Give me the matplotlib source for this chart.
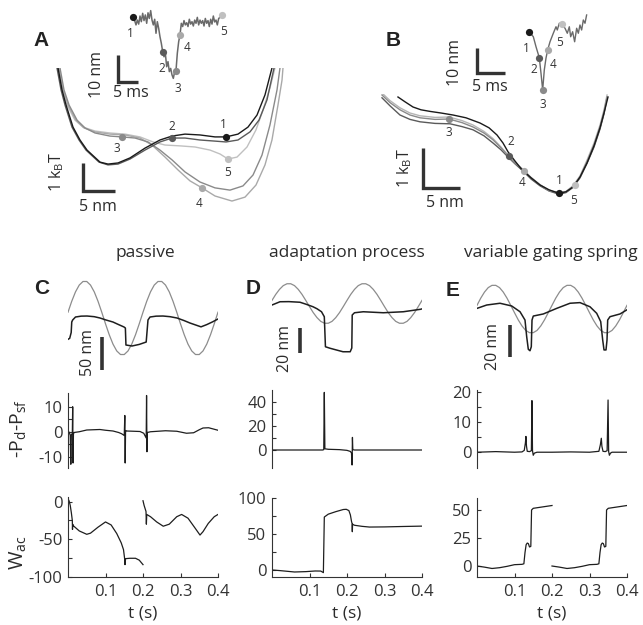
import matplotlib
matplotlib.use('Agg')
import matplotlib.pyplot as plt

W, H = 643, 625
plt.rcParams['font.family'] = ['Open Sans', 'DejaVu Sans']
plt.rcParams['mathtext.default'] = 'regular'

INK = '#2b2b2b'
PT_COLORS = ['#1a1a1a', '#5a5a5a', '#8a8a8a', '#a9a9a9', '#c0c0c0']
PT_NAMES = ['1', '2', '3', '4', '5']

# ---------------- Panel A inset trace (time ms, displacement nm) ----------------
a_tr_t = [0.25, 0.75, 1.08, 1.42, 1.75, 2.08, 2.42, 2.75, 3.08, 3.42, 3.75, 4.08, 4.42, 4.75, 5.08,
          5.42, 5.75, 6.08, 6.42, 6.75, 7.08, 7.42, 7.75, 8.08, 8.42, 8.75, 9.08, 9.42, 9.75, 10.08,
          10.42, 10.75, 11.08, 11.42, 11.75, 12.08, 12.42, 12.75, 13.08, 13.42, 13.75, 14.08, 14.42,
          14.75, 15.08, 15.42, 15.75, 16.08, 16.42, 16.75, 17.08, 17.42, 17.75, 18.08, 18.42, 18.75,
          19.08, 19.42, 19.75, 20.08, 20.42, 20.75, 21.08, 21.42, 21.75, 22.17]
a_tr_x = [22.8, 20.4, 22.2, 20.7, 23.7, 21.6, 24.7, 22.0, 24.1, 21.0, 24.9, 22.8, 25.7, 22.2, 20.4,
          22.5, 17.3, 21.6, 19.1, 16.0, 13.6, 10.5, 8.6, 9.9, 4.9, 6.8, 3.1, 4.3, 1.9, 0.6,
          3.1, 3.5, 9.9, 14.2, 16.7, 21.0, 19.8, 22.0, 20.4, 21.2, 19.8, 22.5, 20.7, 21.6, 20.0,
          22.2, 21.0, 23.2, 20.4, 22.2, 21.0, 22.0, 20.0, 22.8, 21.0, 22.0, 19.8, 22.5, 20.7, 23.7,
          21.5, 22.2, 20.4, 22.8, 23.2, 24.1]
a_pt_t = [0.08, 7.58, 10.75, 11.75, 22.17]
a_pt_x = [23.2, 10.5, 3.5, 16.7, 24.1]

# ---------------- Panel A energy landscapes (x nm, E kBT) ----------------
a_e1_x = [0.16, 0.78, 1.41, 2.5, 3.59, 4.69, 6.72, 7.97, 9.53, 11.41, 13.75, 16.09, 17.97, 20.0,
          22.34, 24.69, 26.41, 28.28, 29.84, 31.25, 32.5, 33.59]
a_e1_y = [4.82, 4.04, 3.5, 2.71, 2.25, 1.89, 1.46, 1.39, 1.43, 1.61, 1.96, 2.25, 2.39, 2.46,
          2.43, 2.36, 2.36, 2.46, 2.71, 3.14, 3.86, 4.82]
a_e2_x = [0.0, 0.63, 1.25, 2.34, 3.44, 4.53, 6.56, 7.97, 9.53, 11.41, 13.75, 16.09, 17.97, 20.0,
          22.34, 24.69, 26.41, 28.28, 30.16, 31.56, 32.81, 33.91]
a_e2_y = [4.82, 4.04, 3.5, 2.71, 2.25, 1.89, 1.46, 1.36, 1.39, 1.57, 1.89, 2.18, 2.32, 2.32,
          2.25, 2.21, 2.18, 2.25, 2.54, 2.96, 3.68, 4.82]
a_e3_x = [0.47, 1.09, 1.88, 3.13, 4.38, 5.94, 8.28, 10.16, 12.19, 14.22, 16.09, 17.97, 20.0, 22.34,
          24.69, 27.03, 29.06, 30.63, 32.03, 33.28, 34.38, 34.84]
a_e3_y = [4.82, 4.04, 3.5, 2.96, 2.68, 2.5, 2.39, 2.36, 2.32, 2.18, 1.89, 1.54, 1.11, 0.75,
          0.54, 0.46, 0.61, 1.0, 1.71, 2.79, 4.04, 4.82]
a_e4_x = [0.31, 0.94, 1.72, 2.97, 4.22, 5.94, 8.28, 10.63, 12.97, 14.84, 16.88, 18.91, 20.78, 22.66,
          24.69, 27.34, 29.38, 31.09, 32.5, 33.59, 34.53, 35.16, 35.31]
a_e4_y = [4.82, 4.04, 3.5, 2.96, 2.68, 2.54, 2.46, 2.43, 2.32, 2.07, 1.64, 1.18, 0.79, 0.54,
          0.25, 0.07, 0.21, 0.64, 1.36, 2.25, 3.5, 4.39, 4.82]
a_e5_x = [0.16, 0.78, 1.56, 2.81, 4.06, 5.94, 8.28, 10.63, 12.97, 15.0, 16.88, 19.22, 21.56, 23.91,
          25.47, 26.72, 28.13, 29.69, 31.09, 32.19, 33.28, 34.06]
a_e5_y = [4.82, 4.04, 3.5, 2.96, 2.71, 2.57, 2.5, 2.46, 2.36, 2.18, 2.07, 2.04, 2.0, 1.89,
          1.75, 1.57, 1.64, 2.0, 2.61, 3.32, 4.11, 4.82]
a_pt_ex = [26.41, 17.97, 10.16, 22.66, 26.72]
a_pt_ey = [2.36, 2.32, 2.36, 0.54, 1.57]

# ---------------- Panel B inset trace ----------------
b_tr_t = [0.0, 0.72, 1.2, 1.79, 2.09, 2.39, 2.68, 2.98, 3.28, 3.7, 4.29, 4.77, 5.0, 5.36, 5.78,
          6.38, 6.79, 7.15, 7.39, 7.74, 8.1, 8.46, 8.76, 9.05, 9.35, 9.65, 9.95, 10.24]
b_tr_x = [23.3, 21.3, 17.3, 12.9, 6.7, 0.0, 8.0, 12.7, 16.0, 19.3, 22.7, 25.3, 24.0, 26.7, 26.4,
          24.7, 22.7, 25.3, 21.3, 23.3, 19.3, 24.7, 22.7, 26.0, 24.0, 28.0, 26.7, 30.0]
b_pt_t = [0.0, 1.79, 2.39, 3.28, 5.78]
b_pt_x = [23.3, 12.9, 0.0, 16.0, 26.4]

# ---------------- Panel B energy landscapes ----------------
b_e1_x = [2.16, 3.11, 4.19, 5.27, 6.49, 7.97, 9.59, 11.35, 13.24, 14.46, 15.54, 16.35, 17.03, 17.97,
          18.92, 20.14, 21.35, 22.57, 23.92, 24.86, 25.81, 26.76, 27.70, 28.65, 29.46, 30.0, 30.54]
b_e1_y = [2.4, 2.28, 2.15, 2.08, 2.04, 2.0, 1.95, 1.88, 1.75, 1.63, 1.45, 1.25, 1.03, 0.8,
          0.58, 0.38, 0.2, 0.08, -0.01, 0.03, 0.15, 0.4, 0.75, 1.18, 1.63, 2.0, 2.4]
b_e2_x = [0.0, 1.08, 2.43, 3.78, 5.14, 7.16, 9.19, 10.81, 12.3, 13.78, 15.0, 16.08, 17.03, 17.97,
          19.05, 20.14, 21.35, 22.57, 23.92, 24.86, 25.81, 26.76, 27.70, 28.65, 29.46, 30.0, 30.41]
b_e2_y = [2.38, 2.18, 1.95, 1.84, 1.78, 1.74, 1.73, 1.66, 1.58, 1.43, 1.25, 1.08, 0.9, 0.73,
          0.55, 0.35, 0.18, 0.05, -0.03, 0.01, 0.14, 0.38, 0.74, 1.15, 1.6, 1.98, 2.38]
b_e3_x = [0.0, 1.08, 2.43, 3.78, 5.14, 7.16, 9.05, 10.81, 12.3, 13.78, 15.0, 16.08, 17.03, 17.97,
          19.05, 20.14, 21.35, 22.57, 23.92, 24.86, 25.81, 26.76, 27.70, 28.65, 29.46, 30.0, 30.41]
b_e3_y = [2.45, 2.26, 2.08, 1.95, 1.88, 1.84, 1.85, 1.76, 1.65, 1.5, 1.33, 1.13, 0.93, 0.75,
          0.58, 0.38, 0.2, 0.06, 0.0, 0.03, 0.16, 0.4, 0.78, 1.2, 1.65, 2.03, 2.4]
b_e4_y = [2.5, 2.31, 2.13, 2.0, 1.93, 1.89, 1.9, 1.81, 1.7, 1.54, 1.36, 1.15, 0.95, 0.76,
          0.59, 0.39, 0.21, 0.07, 0.01, 0.04, 0.18, 0.43, 0.82, 1.25, 1.7, 2.08, 2.45]
b_pt_ex = [23.92, 17.16, 9.05, 19.19, 26.08]
b_pt_ey = [0.0, 0.93, 1.85, 0.55, 0.2]

# ---------------- Panels C-E: stimulus (grey) and bundle (black) traces, nm ----------------
sine_t = [0.00, 0.01, 0.02, 0.03, 0.04, 0.05, 0.06, 0.07, 0.08, 0.09, 0.10, 0.11, 0.12, 0.13,
          0.14, 0.15, 0.16, 0.17, 0.18, 0.19, 0.20, 0.21, 0.22, 0.23, 0.24, 0.25, 0.26, 0.27,
          0.28, 0.29, 0.30, 0.31, 0.32, 0.33, 0.34, 0.35, 0.36, 0.37, 0.38, 0.39, 0.40]
c_stim = [8.8, 25.4, 39.6, 49.9, 55.3, 55.3, 49.9, 39.6, 25.4, 8.8, -8.8, -25.4, -39.6, -49.9,
          -55.3, -55.3, -49.9, -39.6, -25.4, -8.8, 8.8, 25.4, 39.6, 49.9, 55.3, 55.3, 49.9, 39.6,
          25.4, 8.8, -8.8, -25.4, -39.6, -49.9, -55.3, -55.3, -49.9, -39.6, -25.4, -8.8, 8.8]
d_stim = [2.5, 7.3, 11.3, 14.3, 15.8, 15.8, 14.3, 11.3, 7.3, 2.5, -2.5, -7.3, -11.3, -14.3,
          -15.8, -15.8, -14.3, -11.3, -7.3, -2.5, 2.5, 7.3, 11.3, 14.3, 15.8, 15.8, 14.3, 11.3,
          7.3, 2.5, -2.5, -7.3, -11.3, -14.3, -15.8, -15.8, -14.3, -11.3, -7.3, -2.5, 2.5]
e_stim = [2.3, 6.8, 10.6, 13.4, 14.8, 14.8, 13.4, 10.6, 6.8, 2.3, -2.3, -6.8, -10.6, -13.4,
          -14.8, -14.8, -13.4, -10.6, -6.8, -2.3, 2.3, 6.8, 10.6, 13.4, 14.8, 14.8, 13.4, 10.6,
          6.8, 2.3, -2.3, -6.8, -10.6, -13.4, -14.8, -14.8, -13.4, -10.6, -6.8, -2.3, 2.3]

c_bun_t = [0.0, 0.0045, 0.0085, 0.010, 0.0125, 0.02, 0.035, 0.0507, 0.07, 0.0853, 0.10, 0.12,
           0.135, 0.1493, 0.153, 0.1545, 0.1707, 0.19, 0.2085, 0.2133, 0.2187, 0.235, 0.2533,
           0.272, 0.2907, 0.31, 0.3253, 0.34, 0.3547, 0.37, 0.385, 0.40]
c_bun_x = [-32.3, -30.8, -22.0, -6.0, -3.0, 1.5, 2.8, 3.0, 2.0, 0.0, -2.8, -6.1,
           -10.0, -13.6, -15.2, -40.9, -42.4, -40.0, -36.4, -3.0, 1.5, 2.8, 3.0,
           2.0, 0.0, -4.0, -7.6, -10.5, -13.4, -10.0, -6.0, -1.5]
d_bun_t = [0.0, 0.0213, 0.045, 0.0747, 0.09, 0.1093, 0.12, 0.132, 0.1395, 0.1425, 0.1547, 0.1893,
           0.2085, 0.2128, 0.2139, 0.22, 0.2435, 0.2968, 0.3502, 0.3965, 0.40]
d_bun_x = [-1.2, 1.4, 1.5, 1.0, -0.5, -2.6, -4.2, -6.6, -10.6, -34.6, -35.8, -38.6,
           -38.6, -35.6, -9.2, -7.4, -6.6, -7.4, -6.6, -4.6, -4.3]
e_bun_t = [0.0, 0.0259, 0.0613, 0.0925, 0.1147, 0.128, 0.1325, 0.1368, 0.1413, 0.1448, 0.1467,
           0.1501, 0.1768, 0.2125, 0.248, 0.2747, 0.3013, 0.3192, 0.3299, 0.3352, 0.3387, 0.344,
           0.3467, 0.3485, 0.3547, 0.3813, 0.3992]
e_bun_x = [0.4, 2.5, 3.6, 1.9, -1.7, -6.9, -17.3, -25.2, -26.1, -23.6, -6.9,
           -4.4, -3.1, 0.4, 3.6, 4.0, 1.4, -2.7, -7.9, -19.4, -25.6, -25.6,
           -19.4, -6.9, -4.8, -3.1, -0.6]

# ---------------- -Pd-Psf ----------------
c_p_t = [0.0, 0.004, 0.006, 0.0075, 0.009, 0.0115, 0.0125, 0.0135, 0.0145, 0.016, 0.03, 0.05, 0.085,
         0.10, 0.12, 0.135, 0.143, 0.150, 0.1515, 0.1525, 0.1535, 0.156, 0.175, 0.192, 0.202, 0.2085,
         0.2095, 0.2105, 0.2115, 0.22, 0.26, 0.29, 0.316, 0.335, 0.35, 0.36, 0.375, 0.39, 0.40]
c_p_v = [0.5, -0.5, -1.5, -13.0, -1.0, -1.0, 10.0, -12.5, -1.0, -0.3, 0.0, 0.7, 0.9,
         0.6, 0.3, -0.3, -0.8, -1.5, 6.5, -12.5, 0.5, 0.3, 0.2, 0.1, -0.6, -2.5,
         14.5, -8.0, -0.3, 0.0, 0.4, 0.2, -0.6, -0.4, 0.8, 1.5, 1.6, 1.0, 0.6]
d_p_t = [0.0, 0.05, 0.10, 0.135, 0.138, 0.1395, 0.141, 0.15, 0.18, 0.20, 0.209, 0.212, 0.2135,
         0.2145, 0.2155, 0.22, 0.30, 0.40]
d_p_v = [0.0, 0.0, 0.0, 0.0, 0.3, 48.0, 1.0, 0.6, 0.3, -0.3, -1.2, -2.5, -12.5,
         10.5, 0.3, 0.0, 0.0, 0.0]
e_p_t = [0.0, 0.05, 0.10, 0.12, 0.126, 0.129, 0.1305, 0.132, 0.134, 0.14, 0.145, 0.1465, 0.148,
         0.150, 0.153, 0.16, 0.20, 0.25, 0.30, 0.325, 0.329, 0.3315, 0.333, 0.336, 0.342, 0.347,
         0.3495, 0.351, 0.353, 0.356, 0.36, 0.40]
e_p_v = [0.0, 0.2, 0.0, 0.1, 0.6, 3.0, 5.2, 2.0, 0.3, 0.2, 0.5, 17.0, 0.5,
         -1.0, -0.3, 0.0, 0.0, 0.1, 0.0, 0.3, 2.5, 4.6, 2.0, 0.3, 0.2, 0.5,
         17.2, 0.3, -1.0, -0.3, 0.0, 0.0]

# ---------------- W_ac (two stimulus cycles drawn as separate segments) ----------------
c_w1_t = [0.0, 0.003, 0.006, 0.009, 0.0115, 0.012, 0.0125, 0.014, 0.03, 0.05, 0.06, 0.08, 0.10,
          0.115, 0.13, 0.142, 0.148, 0.151, 0.152, 0.1535, 0.165, 0.18, 0.19, 0.20]
c_w1_v = [4.0, 1.0, -5.0, -15.0, -25.0, -37.0, -30.0, -32.0, -39.0, -43.5, -42.0, -34.0, -27.0,
          -31.0, -42.5, -55.0, -64.0, -76.0, -84.0, -76.0, -75.5, -75.5, -78.0, -84.0]
c_w2_t = [0.20, 0.203, 0.208, 0.209, 0.21, 0.22, 0.2365, 0.254, 0.27, 0.29, 0.303, 0.32, 0.34,
          0.352, 0.36, 0.374, 0.39, 0.40]
c_w2_v = [1.3, -5.0, -13.0, -30.0, -17.0, -20.0, -27.0, -32.7, -30.0, -20.0, -17.0, -22.0, -36.0,
          -44.5, -40.0, -29.0, -20.0, -17.0]
d_w_t = [0.0, 0.02, 0.06, 0.09, 0.115, 0.13, 0.137, 0.1395, 0.15, 0.17, 0.19, 0.198, 0.205, 0.209,
         0.212, 0.2135, 0.2142, 0.2148, 0.22, 0.24, 0.26, 0.30, 0.35, 0.40]
d_w_v = [0.0, -0.8, -2.8, -2.3, -1.4, -1.5, -3.7, 74.0, 78.0, 81.5, 84.5, 84.8, 83.0, 77.0,
         68.0, 65.0, 53.5, 64.0, 62.5, 61.0, 60.0, 60.2, 60.8, 61.3]
e_w1_t = [0.0, 0.02, 0.04, 0.06, 0.08, 0.10, 0.12, 0.125, 0.128, 0.131, 0.134, 0.137, 0.140,
          0.1435, 0.1455, 0.15, 0.17, 0.19, 0.20]
e_w1_v = [0.0, -1.0, -2.2, -1.5, -0.3, 1.2, 1.5, 2.0, 12.0, 19.0, 20.5, 20.0, 17.0,
          17.5, 50.0, 51.5, 52.5, 53.5, 54.0]
e_w2_t = [0.20, 0.22, 0.24, 0.26, 0.28, 0.30, 0.32, 0.325, 0.328, 0.331, 0.334, 0.337, 0.340,
          0.3435, 0.3455, 0.35, 0.37, 0.39, 0.40]
e_w2_v = [0.0, -1.0, -2.2, -1.5, -0.3, 1.2, 1.5, 2.0, 12.0, 19.0, 20.5, 20.0, 17.0,
          17.5, 50.0, 51.5, 52.5, 53.5, 54.0]

t_ticks = [0.1, 0.2, 0.3, 0.4]
t_ticklabels = ['0.1', '0.2', '0.3', '0.4']

# =====================================================================
fig = plt.figure(figsize=(W / 100, H / 100), dpi=100)

TICK_FS = 12
SCALE_FS = 11.5


def add_ax(l, t, r, b):
    ax = fig.add_axes([l / W, 1 - b / H, (r - l) / W, (b - t) / H])
    ax.patch.set_alpha(0)
    return ax


def ftext(x, y, s, **kw):
    kw.setdefault('ha', 'center')
    kw.setdefault('va', 'center')
    kw.setdefault('color', INK)
    fig.text(x / W, 1 - y / H, s, **kw)


def lbar(ax, x0, y0, dx, dy):
    ax.plot([x0, x0, x0 + dx], [y0 + dy, y0, y0], color='#333333', lw=2.4,
            solid_capstyle='butt', solid_joinstyle='miter', clip_on=False)


def points(ax, xs, ys, offs, ms=5.2, fs=8.5):
    for i, (x, y) in enumerate(zip(xs, ys)):
        ax.plot([x], [y], 'o', ms=ms, color=PT_COLORS[i], mec='none', clip_on=False, zorder=5)
        ax.annotate(PT_NAMES[i], (x, y), xytext=(offs[i][0], -offs[i][1]), textcoords='offset pixels',
                    ha='center', va='center', fontsize=fs, color='#333333')


# ---------------- A ----------------
axAi = add_ax(95, 5, 235, 100)
axAi.set_xlim(-9.5, 25.5)
axAi.set_ylim(-7.41, 27.78)
axAi.axis('off')
axAi.plot(a_tr_t, a_tr_x, color='#6a6a6a', lw=1.1)
points(axAi, a_pt_t, a_pt_x, [(-3, 16), (-2, 17), (2, 18), (7, 13), (2, 17)])
lbar(axAi, -3.75, -0.74, 5, 10)
axAi.text(-9.0, 2.0, '10 nm', rotation=90, ha='center', va='center', fontsize=SCALE_FS, color=INK)
axAi.text(-0.5, -4.8, '5 ms', ha='center', va='center', fontsize=SCALE_FS, color=INK)

axA = add_ax(30, 68, 300, 215)
axA.set_xlim(-4.22, 37.97)
axA.set_ylim(-0.4286, 4.821)
axA.axis('off')
for xs, ys, c in [(a_e5_x, a_e5_y, PT_COLORS[4]), (a_e4_x, a_e4_y, PT_COLORS[3]),
                  (a_e3_x, a_e3_y, PT_COLORS[2]), (a_e2_x, a_e2_y, PT_COLORS[1]),
                  (a_e1_x, a_e1_y, PT_COLORS[0])]:
    axA.plot(xs, ys, color=c, lw=1.0)
points(axA, a_pt_ex, a_pt_ey, [(-3, -12), (0, -12), (-5, 12), (-3, 16), (0, 13)])
lbar(axA, 4.06, 0.43, 5, 1)
axA.text(0.0, 1.1, r'1 k$_{B}$T', rotation=90, ha='center', va='center', fontsize=SCALE_FS, color=INK)
axA.text(6.4, -0.15, '5 nm', ha='center', va='center', fontsize=SCALE_FS, color=INK)

# ---------------- B ----------------
axBi = add_ax(440, 5, 600, 110)
axBi.set_xlim(-15.95, 12.63)
axBi.set_ylim(-8, 34)
axBi.axis('off')
axBi.plot(b_tr_t, b_tr_x, color='#6a6a6a', lw=1.0)
points(axBi, b_pt_t, b_pt_x, [(-3, 17), (-6, 12), (0, 14), (5, 15), (-2, 19)])
lbar(axBi, -9.34, 6.8, 5, 10)
axBi.text(-13.27, 10.8, '10 nm', rotation=90, ha='center', va='center', fontsize=SCALE_FS, color=INK)
axBi.text(-7.02, 1.2, '5 ms', ha='center', va='center', fontsize=SCALE_FS, color=INK)

axB = add_ax(370, 94, 620, 215)
axB.set_xlim(-1.62, 32.16)
axB.set_ylim(-0.55, 2.475)
axB.axis('off')
axB.plot(b_e2_x, b_e2_y, color='#5a5a5a', lw=1.0)
axB.plot(b_e3_x, b_e4_y, color='#b5b5b5', lw=1.0)
axB.plot(b_e3_x, b_e3_y, color='#8a8a8a', lw=1.0)
axB.plot(b_e1_x, b_e1_y, color='#1a1a1a', lw=1.0)
points(axB, b_pt_ex, b_pt_ey, [(0, -12), (2, -14), (0, 13), (-2, 12), (-1, 15)])
lbar(axB, 5.54, 0.125, 5, 1)
axB.text(3.11, 0.625, r'1 k$_{B}$T', rotation=90, ha='center', va='center', fontsize=SCALE_FS, color=INK)
axB.text(8.51, -0.25, '5 nm', ha='center', va='center', fontsize=SCALE_FS, color=INK)

# ---------------- C/D/E traces ----------------
trace_specs = [
    (68, c_stim, c_bun_t, c_bun_x, (-93.9, 72.7), (0.0907, -78.8, 50), (0.0533, -53.0, '50 nm')),
    (272, d_stim, d_bun_t, d_bun_x, (-61.2, 26.8), (0.0747, -39.6, 20), (0.0347, -35.6, '20 nm')),
    (477, e_stim, e_bun_t, e_bun_x, (-44.4, 24.4), (0.088, -30.0, 20), (0.0427, -23.75, '20 nm')),
]
for left, stim, bt, bx, ylim, sb, lab in trace_specs:
    ax = add_ax(left, 270, left + 150, 380)
    ax.set_xlim(0, 0.4)
    ax.set_ylim(*ylim)
    ax.axis('off')
    ax.plot(sine_t, stim, color='#8c8c8c', lw=0.9)
    ax.plot(bt, bx, color='#1e1e1e', lw=1.1)
    ax.plot([sb[0], sb[0]], [sb[1], sb[1] + sb[2]], color='#333333', lw=2.6, solid_capstyle='butt')
    ax.text(lab[0], lab[1], lab[2], rotation=90, ha='center', va='center', fontsize=SCALE_FS, color=INK)


def style_ts(ax, ylim, yticks, yminor, bottom):
    ax.set_xlim(0, 0.4)
    ax.set_ylim(*ylim)
    for s in ['top', 'right']:
        ax.spines[s].set_visible(False)
    for s in ['left', 'bottom']:
        ax.spines[s].set_linewidth(0.8)
        ax.spines[s].set_color('#333333')
    if bottom:
        ax.set_xticks(t_ticks)
        ax.set_xticklabels(t_ticklabels)
        ax.tick_params(axis='x', direction='in', length=3, width=0.8, labelsize=TICK_FS,
                       colors='#333333', pad=5)
    else:
        ax.spines['bottom'].set_visible(False)
        ax.set_xticks([])
    ax.set_yticks(yticks)
    ax.set_yticklabels([str(v) for v in yticks])
    ax.set_yticks(yminor, minor=True)
    ax.tick_params(axis='y', which='both', direction='in', length=3, width=0.8, labelsize=TICK_FS,
                   colors='#333333', pad=4)


# middle row
axCm = add_ax(68, 393, 218, 468)
axCm.plot(c_p_t, c_p_v, color='#1e1e1e', lw=0.9)
style_ts(axCm, (-14.5, 15.5), [-10, 0, 10], [-5, 5], False)
axDm = add_ax(272, 390, 422, 468)
axDm.plot(d_p_t, d_p_v, color='#1e1e1e', lw=0.9)
style_ts(axDm, (-15, 50), [0, 20, 40], [10, 30], False)
axEm = add_ax(477, 390, 627, 468)
axEm.plot(e_p_t, e_p_v, color='#1e1e1e', lw=0.9)
style_ts(axEm, (-5.2, 20.5), [0, 10, 20], [5, 15], False)

# bottom row
axCb = add_ax(68, 497, 218, 577)
axCb.plot(c_w1_t, c_w1_v, color='#1e1e1e', lw=0.9)
axCb.plot(c_w2_t, c_w2_v, color='#1e1e1e', lw=0.9)
style_ts(axCb, (-100.5, 6.3), [-100, -50, 0], [-75, -25], True)
axDb = add_ax(272, 498, 422, 577)
axDb.plot(d_w_t, d_w_v, color='#1e1e1e', lw=0.9)
style_ts(axDb, (-9.8, 100.6), [0, 50, 100], [25, 75], True)
axEb = add_ax(477, 498, 627, 577)
axEb.plot(e_w1_t, e_w1_v, color='#1e1e1e', lw=0.9)
axEb.plot(e_w2_t, e_w2_v, color='#1e1e1e', lw=0.9)
style_ts(axEb, (-9.8, 60.7), [0, 25, 50], [], True)

# ---------------- texts ----------------
for x, y, s in [(41, 41, 'A'), (393, 41, 'B'), (42, 289, 'C'), (253, 289, 'D'), (453, 290, 'E')]:
    fig.text(x / W, 1 - y / H, s, ha='center', va='center', fontsize=15, fontweight='bold',
             family=['Liberation Sans', 'DejaVu Sans'], color='#222222')
for x, s in [(145, 'passive'), (347, 'adaptation process'), (551, 'variable gating spring')]:
    ftext(x, 253, s, fontsize=12.5)
for x in [143, 347, 552]:
    ftext(x, 613, 't (s)', fontsize=12.5)
ftext(18, 429, r'-P$_{d}$-P$_{sf}$', rotation=90, fontsize=14)
ftext(18, 553, r'W$_{ac}$', rotation=90, fontsize=14.5)

fig.savefig('out.png', dpi=100)
